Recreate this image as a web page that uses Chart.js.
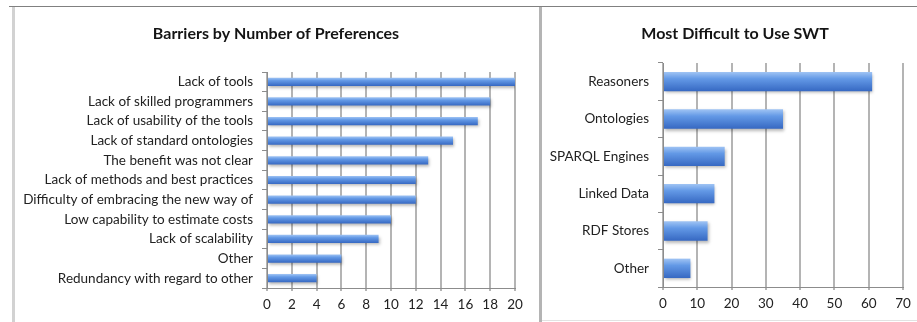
<!DOCTYPE html>
<html>
<head>
<meta charset="utf-8">
<script src="https://cdn.jsdelivr.net/npm/chart.js@4"></script>
<style>
  html, body { margin: 0; padding: 0; background: #fff; }
  body { width: 917px; height: 322px; position: relative; overflow: hidden; }
  .rule { position: absolute; }
  .top-rule { left: 9px; top: 6px; width: 908px; height: 1px; background: #808080; }
  .left-rule { left: 12px; top: 7px; width: 3px; height: 315px; background: #d2d2d2; }
  .mid-rule { left: 539px; top: 7px; width: 3px; height: 315px; background: #b4b4b4; }
  .bottom-rule { left: 542px; top: 320px; width: 375px; height: 1px; background: #e2e2e2; }
  .panel { position: absolute; top: 7px; height: 313px; }
  #barriersPanel { left: 15px; width: 524px; }
  #difficultPanel { left: 543px; width: 374px; }
</style>
</head>
<body>
<div class="rule top-rule"></div>
<div class="rule left-rule"></div>
<div class="rule mid-rule"></div>
<div class="rule bottom-rule"></div>
<div class="panel" id="barriersPanel"><canvas id="barriersChart" width="524" height="313"></canvas></div>
<div class="panel" id="difficultPanel"><canvas id="difficultChart" width="374" height="313"></canvas></div>
<script>
// Survey answers: barriers to adoption
const barrierLabels = [
  'Lack of tools',
  'Lack of skilled programmers',
  'Lack of usability of the tools',
  'Lack of standard ontologies',
  'The benefit was not clear',
  'Lack of methods and best practices',
  'Difficulty of embracing the new way of',
  'Low capability to estimate costs',
  'Lack of scalability',
  'Other',
  'Redundancy with regard to other'
];
const barrierCounts = [20, 18, 17, 15, 13, 12, 12, 10, 9, 6, 4];

// Survey answers: hardest technologies to use
const difficultLabels = ['Reasoners', 'Ontologies', 'SPARQL Engines', 'Linked Data', 'RDF Stores', 'Other'];
const difficultCounts = [61, 35, 18, 15, 13, 8];

const FONT = 'Lato, "Open Sans", sans-serif';
const GRID = '#b4b4b4';
const AXIS = '#8c8c8c';

// Vertical shading on each bar, lighter on top like the old Excel bars
function makeBarFill(barPct) {
  return function(ctx) {
    const chart = ctx.chart;
    if (!chart.chartArea || ctx.type !== 'data') return '#5b8fdf';
    const yScale = chart.scales.y;
    const cy = yScale.getPixelForValue(ctx.dataIndex);
    const half = yScale.height / chart.data.labels.length * barPct / 2;
    const g = chart.ctx.createLinearGradient(0, cy - half, 0, cy + half);
    g.addColorStop(0, '#a0c4f4');
    g.addColorStop(0.35, '#6399e6');
    g.addColorStop(1, '#3668c2');
    return g;
  };
}

// Soft drop shadow under the bars
const barShadow = {
  id: 'barShadow',
  beforeDatasetsDraw(chart) {
    const c = chart.ctx;
    c.save();
    c.shadowColor = 'rgba(0, 0, 0, 0.28)';
    c.shadowBlur = 3;
    c.shadowOffsetX = 1;
    c.shadowOffsetY = 2;
  },
  afterDatasetsDraw(chart) {
    chart.ctx.restore();
  }
};

// Heading centred on the panel rather than on the padded layout box
const panelTitle = {
  id: 'panelTitle',
  afterDraw(chart, args, opts) {
    const c = chart.ctx;
    c.save();
    c.font = 'bold 16px ' + FONT;
    c.fillStyle = '#141414';
    c.textAlign = 'center';
    c.textBaseline = 'middle';
    c.fillText(opts.text, opts.x, opts.y);
    c.restore();
  }
};

function buildChart(canvasId, opts) {
  return new Chart(document.getElementById(canvasId), {
    type: 'bar',
    data: {
      labels: opts.labels,
      datasets: [{
        data: opts.values,
        backgroundColor: makeBarFill(opts.barPct),
        borderWidth: 0,
        categoryPercentage: 1,
        barPercentage: opts.barPct
      }]
    },
    plugins: [barShadow, panelTitle],
    options: {
      indexAxis: 'y',
      responsive: false,
      animation: false,
      layout: { padding: { left: 0, right: opts.rightPad, top: opts.topPad, bottom: 0 } },
      plugins: {
        legend: { display: false },
        tooltip: { enabled: false },
        title: { display: false },
        panelTitle: { text: opts.title, x: opts.titleX, y: 27 }
      },
      scales: {
        x: {
          min: 0,
          max: opts.max,
          ticks: {
            stepSize: opts.step,
            color: '#222',
            padding: 6,
            font: { family: FONT, size: 13.5 }
          },
          grid: {
            color: GRID,
            lineWidth: 2,
            tickLength: 3,
            drawTicks: true
          },
          border: { color: AXIS, width: 1 },
          afterFit(scale) { scale.height = opts.xAxisHeight; }
        },
        y: {
          ticks: {
            color: '#222',
            padding: 9,
            font: { family: FONT, size: 13.5 }
          },
          grid: {
            drawOnChartArea: false,
            color: AXIS,
            tickLength: 5
          },
          border: { color: AXIS, width: 1 },
          afterFit(scale) { scale.width = opts.yAxisWidth; }
        }
      }
    }
  });
}

buildChart('barriersChart', {
  labels: barrierLabels,
  values: barrierCounts,
  title: 'Barriers by Number of Preferences',
  titleX: 261,
  max: 20,
  step: 2,
  barPct: 0.42,
  yAxisWidth: 252,
  xAxisHeight: 32,
  rightPad: 24,
  topPad: 65
});

buildChart('difficultChart', {
  labels: difficultLabels,
  values: difficultCounts,
  title: 'Most Difficult to Use SWT',
  titleX: 192,
  max: 70,
  step: 10,
  barPct: 0.52,
  yAxisWidth: 120,
  xAxisHeight: 33,
  rightPad: 14,
  topPad: 56
});
</script>
</body>
</html>
